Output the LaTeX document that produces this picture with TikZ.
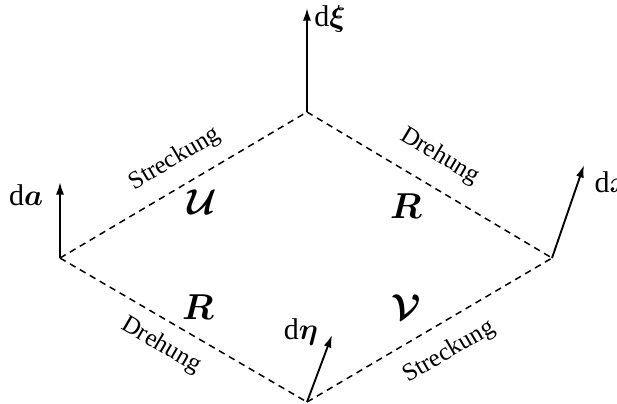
\documentclass[tikz,border=0pt]{standalone}
\usepackage{amsmath,amssymb}
\usepackage{fontspec}
\setmainfont{Liberation Serif}
\usetikzlibrary{arrows.meta}

\begin{document}
\begin{tikzpicture}[x=0.4pt,y=-0.4pt,font=\normalsize,
    kante/.style={dashed,dash pattern=on 2.6pt off 2pt,line width=0.6pt},
    vec/.style={-{Latex[length=5pt,width=3.2pt]},line width=0.75pt},
    tens/.style={font=\Large}]
    \useasboundingbox (0,0) rectangle (617,403);
    % Ecken
    \coordinate (links) at (60,258);
    \coordinate (oben) at (307,112);
    \coordinate (rechts) at (552,258);
    \coordinate (unten) at (307,402);
    % Pfeilspitzen
    \coordinate (tipa) at (60,182);
    \coordinate (tipxi) at (307,8);
    \coordinate (tipx) at (584,165);
    \coordinate (tipeta) at (332,335);
    \draw[kante] (links) -- node[pos=0.52,sloped,above=2.5pt]{Streckung} (oben);
    \draw[kante] (oben) -- node[pos=0.48,sloped,above=3.8pt]{Drehung} (rechts);
    \draw[kante] (links) -- node[pos=0.46,sloped,below=1.7pt]{Drehung} (unten);
    \draw[kante] (unten) -- node[pos=0.52,sloped,below=3.4pt]{Streckung} (rechts);
    \draw[vec] (links) -- (tipa);
    \draw[vec] (oben) -- (tipxi);
    \draw[vec] (rechts) -- (tipx);
    \draw[vec] (unten) -- (tipeta);
    \node[font=\large] (la) at (26,195) {$\mathrm{d}\boldsymbol{a}$};
    \node[font=\large] (lxi) at (330,19) {$\mathrm{d}\boldsymbol{\xi}$};
    \node[font=\large,anchor=west,inner sep=0pt] (lx) at (594,182) {$\mathrm{d}\boldsymbol{x}$};
    \node[font=\large] (leta) at (301,332) {$\mathrm{d}\boldsymbol{\eta}$};
    \node[tens] (tu) at (202,202) {$\boldsymbol{\mathcal{U}}$};
    \node[tens] (tr1) at (406,206) {$\boldsymbol{R}$};
    \node[tens] (tr2) at (198,307) {$\boldsymbol{R}$};
    \node[tens] (tv) at (406,307) {$\boldsymbol{\mathcal{V}}$};
  \end{tikzpicture}
\end{document}
